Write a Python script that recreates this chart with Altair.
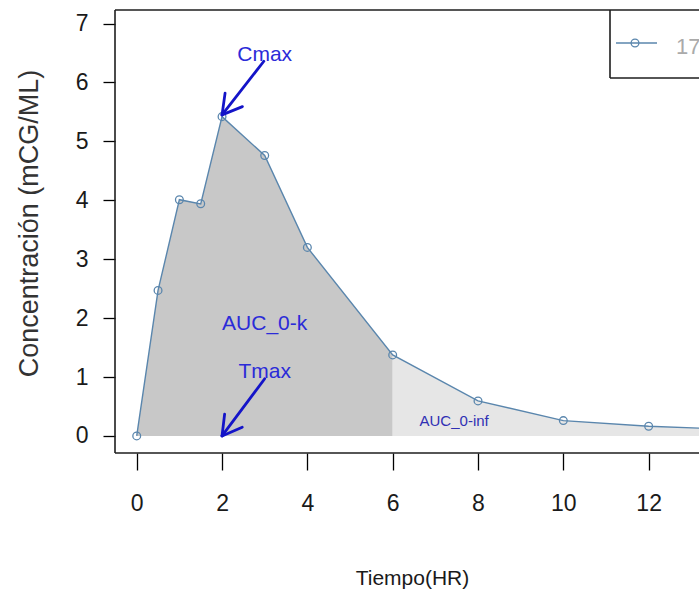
import math
import altair as alt
import pandas as pd

# ---- data ----
tiempo = [0, 0.5, 1, 1.5, 2, 3, 4, 6, 8, 10, 12, 14]
conc = [0.0, 2.47, 4.01, 3.94, 5.42, 4.76, 3.20, 1.375, 0.594, 0.26, 0.165, 0.11]
corte_auc = 6

x_ticks = [0, 2, 4, 6, 8, 10, 12]
y_ticks = [0, 1, 2, 3, 4, 5, 6, 7]

ann_text = ["Cmax", "AUC_0-k", "Tmax", "AUC_0-inf"]
ann_x = [3, 3, 3, 7.44]
ann_y = [6.36, 1.80, 0.98, 0.16]
ann_size = [21, 21, 21, 15]
ann_color = ["#2b2bd8", "#2b2bd8", "#2b2bd8", "#3030b4"]

arrow_x0 = [2.98, 3.0]
arrow_y0 = [6.36, 0.97]
arrow_x1 = [2.0, 2.0]
arrow_y1 = [5.45, 0.0]

legend_label = "17"

# ---- layout ----
W, H = 584, 443
X_DOM = [-0.509, 13.18]
Y_DOM = [-0.29, 7.23]
FONT = "Liberation Sans, Arial, sans-serif"
LINE_COL = "#5a86ad"

xs = alt.Scale(domain=X_DOM, nice=False, zero=False)
ys = alt.Scale(domain=Y_DOM, nice=False, zero=False)

df = pd.DataFrame({"t": tiempo, "c": conc})
rows = []
for t, c in zip(tiempo, conc):
    if t <= corte_auc:
        rows.append({"t": t, "c": c, "seg": "k"})
    if t >= corte_auc:
        rows.append({"t": t, "c": c, "seg": "inf"})
df_area = pd.DataFrame(rows)

df_ann = pd.DataFrame({"t": ann_x, "c": ann_y, "txt": ann_text,
                       "fs": ann_size, "col": ann_color})

# arrows (shaft + two head strokes, like R's arrows())
kx = W / (X_DOM[1] - X_DOM[0])
ky = H / (Y_DOM[1] - Y_DOM[0])
seg_rows = []
L = 22
for x0, y0, x1, y1 in zip(arrow_x0, arrow_y0, arrow_x1, arrow_y1):
    seg_rows.append({"t": x0, "c": y0, "t2": x1, "c2": y1})
    dxp = (x0 - x1) * kx
    dyp = -(y0 - y1) * ky
    ang = math.atan2(dyp, dxp)
    for s in (-math.pi / 6, math.pi / 6):
        a = ang + s
        seg_rows.append({"t": x1, "c": y1,
                         "t2": x1 + L * math.cos(a) / kx,
                         "c2": y1 - L * math.sin(a) / ky})
df_arrows = pd.DataFrame(seg_rows)

x_axis = alt.Axis(values=x_ticks, tickSize=17, tickWidth=1.3, tickColor="black",
                  domain=False, grid=False, labelFont=FONT, labelFontSize=23,
                  labelColor="#1a1a1a", labelPadding=22, labelFlush=False,
                  title="Tiempo(HR)", titleFont=FONT, titleFontSize=21,
                  titleFontWeight="normal", titleColor="#1a1a1a",
                  titleX=297, titleY=131, titleBaseline="alphabetic",
                  titleAlign="center")
y_axis = alt.Axis(values=y_ticks, tickSize=12, tickWidth=1.3, tickColor="black",
                  domain=False, grid=False, labelFont=FONT, labelFontSize=23,
                  labelColor="#1a1a1a", labelPadding=15,
                  title="Concentración (mCG/ML)", titleFont=FONT, titleFontSize=27,
                  titleFontWeight="normal", titleColor="#333333",
                  titleX=-78, titleY=213, titleAngle=270,
                  titleBaseline="alphabetic", titleAlign="center")

X = alt.X("t:Q", scale=xs, axis=x_axis)
Y = alt.Y("c:Q", scale=ys, axis=y_axis)

area = alt.Chart(df_area).mark_area(clip=True, opacity=1).encode(
    x=X,
    y=alt.Y("c:Q", scale=ys, axis=y_axis, stack=None),
    y2=alt.datum(0),
    color=alt.Color("seg:N", scale=alt.Scale(domain=["k", "inf"],
                                             range=["#c8c8c8", "#e6e6e6"]),
                    legend=None),
    detail="seg:N",
)

line = alt.Chart(df).mark_line(clip=True, color=LINE_COL, strokeWidth=1.4).encode(
    x=X, y=Y)
pts = alt.Chart(df).mark_point(clip=True, shape="circle", filled=False, size=60,
                               strokeWidth=1.3, color=LINE_COL, opacity=1).encode(
    x=X, y=Y)

arrows = alt.Chart(df_arrows).mark_rule(color="#1414c8", strokeWidth=2.8,
                                        strokeCap="round").encode(
    x=X, y=Y, x2="t2:Q", y2="c2:Q")

texts = alt.Chart(df_ann).mark_text(font=FONT, baseline="alphabetic",
                                    align="center").encode(
    x=X, y=Y,
    text="txt:N",
    size=alt.Size("fs:Q", scale=None, legend=None),
    color=alt.Color("col:N", scale=None, legend=None),
)

frame_col = "#1e1e1e"
frame = [
    alt.Chart().mark_rule(color=frame_col, strokeWidth=1.6).encode(
        x=alt.value(0), y=alt.value(0), y2=alt.value(H)),
    alt.Chart().mark_rule(color=frame_col, strokeWidth=1.6).encode(
        x=alt.value(0), x2=alt.value(W + 5), y=alt.value(0)),
    alt.Chart().mark_rule(color=frame_col, strokeWidth=1.6).encode(
        x=alt.value(0), x2=alt.value(W + 5), y=alt.value(H)),
]

legend = [
    alt.Chart().mark_rule(color=frame_col, strokeWidth=1.6).encode(
        x=alt.value(495), y=alt.value(0), y2=alt.value(68)),
    alt.Chart().mark_rule(color=frame_col, strokeWidth=1.6).encode(
        x=alt.value(495), x2=alt.value(W + 5), y=alt.value(68)),
    alt.Chart().mark_rule(color=LINE_COL, strokeWidth=1.4).encode(
        x=alt.value(501), x2=alt.value(542), y=alt.value(33)),
    alt.Chart().mark_point(shape="circle", filled=False, size=60, strokeWidth=1.3,
                           color=LINE_COL, opacity=1).encode(
        x=alt.value(520), y=alt.value(33)),
    alt.Chart().mark_text(text=legend_label, font=FONT, fontSize=22,
                          color="#aaaaaa", align="left",
                          baseline="alphabetic").encode(
        x=alt.value(561), y=alt.value(44)),
]

chart = alt.layer(area, line, pts, arrows, texts, *frame, *legend).properties(
    width=W, height=H,
    autosize=alt.AutoSizeParams(type="none"),
    padding={"left": 115, "top": 10, "right": 0, "bottom": 139},
    background="white",
).configure_view(stroke=None)

chart.save("out.html", embed_options={"renderer": "svg", "actions": False})
